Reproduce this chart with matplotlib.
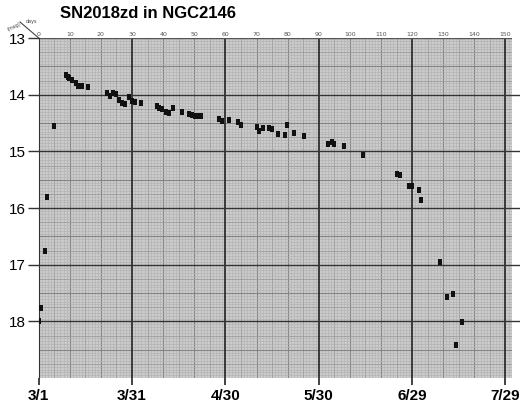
import numpy as np
import matplotlib.pyplot as plt
from matplotlib.path import Path

# days since 3/1 and magnitude
days = [0.0, 0.7, 2.0, 2.7, 4.8, 8.8, 9.3, 9.8, 10.6, 11.9, 12.7, 13.8, 15.9,
        22.1, 22.9, 24.0, 24.9, 25.9, 26.8, 27.8, 28.9, 29.9, 31.1, 32.9,
        37.9, 38.8, 39.7, 40.9, 41.8, 43.0, 46.0, 48.3, 49.2, 50.3, 51.1, 52.1,
        58.1, 59.0, 61.0, 64.0, 65.0, 70.0, 70.9, 72.0, 74.1, 75.0, 77.0, 79.0,
        79.9, 82.0, 85.1, 93.0, 94.1, 95.0, 98.1, 104.1, 115.1, 116.0, 119.1,
        120.0, 122.1, 123.0, 129.0, 131.1, 133.1, 134.2, 136.1]
mags = [18.00, 17.77, 16.75, 15.80, 14.55, 13.65, 13.68, 13.71, 13.74, 13.80,
        13.84, 13.84, 13.86, 13.97, 14.03, 13.97, 13.99, 14.10, 14.14, 14.16,
        14.04, 14.12, 14.13, 14.14, 14.20, 14.23, 14.26, 14.31, 14.33, 14.24,
        14.30, 14.34, 14.36, 14.37, 14.37, 14.37, 14.43, 14.47, 14.45, 14.48,
        14.53, 14.57, 14.64, 14.58, 14.59, 14.60, 14.70, 14.71, 14.54, 14.68,
        14.73, 14.87, 14.84, 14.87, 14.90, 15.07, 15.40, 15.41, 15.62, 15.62,
        15.68, 15.85, 16.96, 17.57, 17.51, 18.42, 18.01]

date_labels = ['3/1', '3/31', '4/30', '5/30', '6/29', '7/29']
date_pos = [0, 30, 60, 90, 120, 150]
mag_ticks = [13, 14, 15, 16, 17, 18]

fig = plt.figure(figsize=(5.2, 4.07), dpi=100)
ax = fig.add_axes([38.7 / 520, 29 / 407, 473 / 520, 340 / 407])
ax.set_facecolor('#cbcbcb')
ax.set_xlim(0, 152)
ax.set_ylim(19, 13)

# graph paper grid
for d in np.arange(1, 152, 1):
    if d % 30 == 0:
        continue
    if d % 10 == 0:
        c, w = '#858585', 0.8
    elif d % 5 == 0:
        c, w = '#9c9c9c', 0.6
    else:
        c, w = '#b0b0b0', 0.4
    ax.axvline(d, color=c, lw=w, zorder=1)
for m in np.arange(13.05, 19.0, 0.05):
    m = round(m, 2)
    if abs(m - round(m)) < 1e-6:
        continue
    if abs(m * 2 - round(m * 2)) < 1e-6:
        c, w = '#858585', 0.8
    elif abs(m * 4 - round(m * 4)) < 1e-6:
        c, w = '#9c9c9c', 0.6
    else:
        c, w = '#b0b0b0', 0.4
    ax.axhline(m, color=c, lw=w, zorder=1)

for d in date_pos[1:]:
    ax.axvline(d, color='#222222', lw=1.2, zorder=2)
for m in mag_ticks[1:]:
    ax.axhline(m, xmin=0, xmax=1.02, color='#333333', lw=1.0, zorder=2, clip_on=False)

for s in ['top', 'right', 'bottom']:
    ax.spines[s].set_visible(False)
ax.spines['left'].set_color('#333333')
ax.axhline(13, color='#555555', lw=1.0, zorder=2)

# small upright rectangles like the hand-plotted dots
rect = Path([(-0.3, -0.5), (0.3, -0.5), (0.3, 0.5), (-0.3, 0.5), (-0.3, -0.5)])
ax.scatter(days, mags, marker=rect, s=13, color='#111111', linewidths=0, zorder=5)

ax.set_yticks(mag_ticks)
ax.set_yticklabels([str(m) for m in mag_ticks], fontsize=11, family='Liberation Sans')
ax.tick_params(axis='y', length=8, width=1, color='#333333', pad=1)
ax.set_xticks(date_pos)
ax.set_xticklabels(date_labels, fontsize=11, fontweight='bold', family='Liberation Sans')
ax.tick_params(axis='x', length=5, width=1.2, color='#222222', pad=3, direction='out')

# top day scale
top = ax.secondary_xaxis('top')
top.set_xticks(range(0, 151, 10))
top.set_xticklabels([str(d) for d in range(0, 151, 10)], fontsize=4.5, color='#555555')
top.tick_params(length=0, pad=1)
top.spines['top'].set_visible(False)

# corner label
fig.add_artist(plt.Line2D([20 / 520, 38.7 / 520], [1 - 22 / 407, 1 - 38 / 407],
                          color='#444444', lw=0.8))
fig.text(14 / 520, 1 - 27 / 407, '(mag)', fontsize=3.5, rotation=25, color='#444444',
         ha='center', va='center')
fig.text(31 / 520, 1 - 22 / 407, 'days', fontsize=3.5, color='#444444',
         ha='center', va='center')

fig.text(60 / 520, 1 - 13 / 407, 'SN2018zd in NGC2146', fontsize=12, fontweight='bold',
         family='Liberation Sans', ha='left', va='center')

fig.savefig('out.png', dpi=100)
